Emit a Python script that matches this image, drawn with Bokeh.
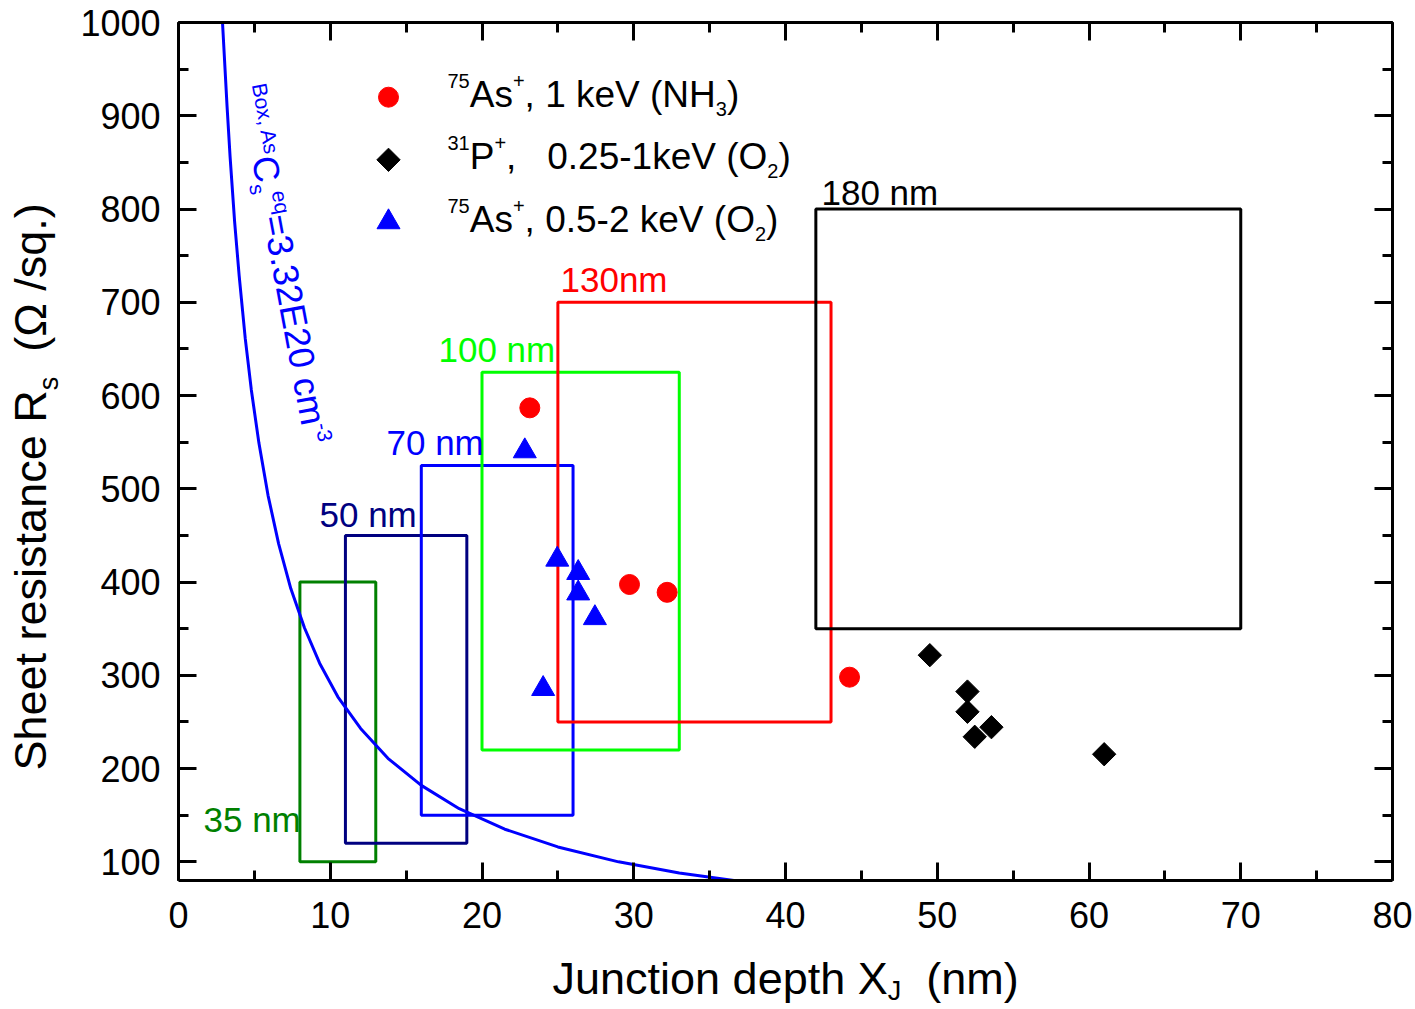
import math
from bokeh.plotting import figure
from bokeh.models import Label, LinearAxis, SingleIntervalTicker, CustomJSTickFormatter, Range1d
from bokeh.layouts import row, column
from bokeh.embed import file_html
from bokeh.resources import INLINE

FONT = "Liberation Sans"

# ---------------- data ----------------
as_nh3_x = [23.15, 29.72, 32.2, 44.22]
as_nh3_y = [586.8, 397.4, 389.0, 298.0]

p_o2_x = [49.51, 51.99, 51.99, 53.57, 52.47, 61.0]
p_o2_y = [321.6, 282.6, 260.9, 244.4, 234.1, 215.4]

as_o2_x = [22.82, 24.96, 26.34, 26.34, 27.44, 24.03]
as_o2_y = [540.4, 424.2, 409.9, 388.0, 361.5, 285.5]

curve_x = [2.9, 3.0, 3.2, 3.4, 3.7, 4.0, 4.4, 4.8, 5.3, 5.9, 6.6, 7.4, 8.3, 9.3,
           10.5, 12.0, 13.8, 16.0, 18.5, 21.5, 25.0, 29.0, 33.0, 36.6]
curve_y = [1000, 970, 910, 856, 786, 728, 661, 606, 549, 493, 441, 393, 351, 313,
           277, 243, 211, 182, 157, 135, 116, 100, 88, 80]

box_names = ["35 nm", "50 nm", "70 nm", "100 nm", "130nm", "180 nm"]
box_left = [8, 11, 16, 20, 25, 42]
box_right = [13, 19, 26, 33, 43, 70]
box_bottom = [100, 120, 150, 220, 250, 350]
box_top = [400, 450, 525, 625, 700, 800]
box_colors = ["#008000", "#000080", "#0000ff", "#00ff00", "#ff0000", "#000000"]

x_tick_step = 10
y_tick_step = 100

# ---------------- layout (page pixels) ----------------
X0, X1, Y0, Y1 = 0, 80, 80, 1000
W, H = 1415, 1009
YT_W = 65                 # strip for the y-axis title
XT_H = 59                 # strip for the x-axis title
L, T, R, B = 178, 22, 23, 129   # frame borders in page pixels
FW, FH = W - L - R, H - T - B

p = figure(width=W - YT_W, height=H - XT_H, x_range=Range1d(X0, X1), y_range=Range1d(Y0, Y1),
           output_backend="svg", toolbar_location=None,
           min_border_left=L - YT_W, min_border_top=T, min_border_right=R,
           min_border_bottom=B - XT_H,
           background_fill_color="white", border_fill_color="white")
p.outline_line_color = None
p.xgrid.grid_line_color = None
p.ygrid.grid_line_color = None


def style_axis(ax, standoff, show_labels=True):
    ax.axis_line_width = 3
    ax.axis_line_color = "black"
    ax.major_tick_line_width = 3
    ax.minor_tick_line_width = 3
    ax.major_tick_in = 18
    ax.major_tick_out = 0
    ax.minor_tick_in = 10
    ax.minor_tick_out = 0
    ax.major_label_text_font = FONT
    ax.major_label_text_font_size = "36px"
    ax.major_label_text_color = "black"
    if show_labels:
        ax.major_label_standoff = standoff
    else:
        ax.formatter = CustomJSTickFormatter(code="return ''")
        ax.major_label_standoff = 0
        ax.major_label_text_font_size = "1px"


p.xaxis.ticker = SingleIntervalTicker(interval=x_tick_step, num_minor_ticks=2)
p.yaxis.ticker = SingleIntervalTicker(interval=y_tick_step, num_minor_ticks=2)
style_axis(p.xaxis[0], 21)
style_axis(p.yaxis[0], 18)

top_ax = LinearAxis(ticker=SingleIntervalTicker(interval=x_tick_step, num_minor_ticks=2))
right_ax = LinearAxis(ticker=SingleIntervalTicker(interval=y_tick_step, num_minor_ticks=2))
style_axis(top_ax, 0, False)
style_axis(right_ax, 0, False)
p.add_layout(top_ax, "above")
p.add_layout(right_ax, "right")


def strip(width, height, xr, yr):
    f = figure(width=width, height=height, x_range=Range1d(*xr), y_range=Range1d(*yr),
               x_axis_type=None, y_axis_type=None,
               output_backend="svg", toolbar_location=None,
               min_border_left=0, min_border_right=0, min_border_top=0, min_border_bottom=0,
               background_fill_color="white", border_fill_color="white")
    f.outline_line_color = None
    f.xgrid.grid_line_color = None
    f.ygrid.grid_line_color = None
    return f


# the y-title strip covers page x 0..65 and the full height (y grows downward)
yt = strip(YT_W, H, (0, YT_W), (H, 0))
# the x-title strip's frame is aligned by the column with the main frame (page x L..W-R)
xt = strip(W - YT_W, XT_H, (L, W - R), (H, H - XT_H))

# ---------------- helpers for rich text ----------------
CW = {" ": 278, "\u00a0": 278, "(": 333, ")": 333, "+": 584, ",": 278, "-": 333, ".": 278,
      "/": 278, "=": 584, "A": 667, "B": 667, "C": 722, "E": 667, "H": 722, "J": 500,
      "N": 722, "O": 778, "P": 667, "R": 722, "S": 667, "V": 667, "X": 667, "a": 556,
      "c": 500, "d": 556, "e": 556, "h": 556, "i": 222, "k": 500, "m": 833, "n": 556,
      "o": 556, "p": 556, "q": 556, "r": 333, "s": 500, "t": 278, "u": 556, "x": 500,
      "\u03a9": 768}
BASE_FIX = 0.38   # empirical baseline correction (fraction of font size)


def tw(s, size):
    return sum(CW.get(c, 556) for c in s) / 1000.0 * size


def main_map(sx, sy):
    return X0 + (sx - L) * (X1 - X0) / FW, Y1 - (sy - T) * (Y1 - Y0) / FH


def page_map(sx, sy):
    return sx, sy


def rich(fig, mapper, sx, sy, pieces, angle_deg=0.0, color="black"):
    a = math.radians(angle_deg)
    vx, vy = math.cos(a), -math.sin(a)
    ux, uy = -math.sin(a), -math.cos(a)
    along = 0.0
    for text, size, shift in pieces:
        s = shift + BASE_FIX * size
        px = sx + along * vx + s * ux
        py = sy + along * vy + s * uy
        x, y = mapper(px, py)
        fig.add_layout(Label(x=x, y=y, text=text, angle=a, text_font=FONT,
                             text_font_size=f"{size}px", text_color=color,
                             text_align="left", text_baseline="alphabetic"))
        along += tw(text, size)


# ---------------- marks ----------------
p.quad(left=box_left, right=box_right, bottom=box_bottom, top=box_top,
       fill_color=None, line_color=box_colors, line_width=3)
p.line(curve_x, curve_y, line_color="#0000ff", line_width=3)

p.scatter(as_nh3_x, as_nh3_y, marker="circle", size=20, color="#ff0000")
p.scatter(p_o2_x, p_o2_y, marker="square", angle=math.pi / 4, size=16.5, color="black")
p.scatter(as_o2_x, as_o2_y, marker="triangle", size=23, color="#0000ff")

# box labels (left, baseline) in page pixels
box_label_pos = [(203, 832), (319, 527), (386, 455), (438, 362), (560, 292), (821, 205)]
for name, col, (sx, sy) in zip(box_names, box_colors, box_label_pos):
    rich(p, main_map, sx, sy, [(name, 35, 0)], color=col)

# legend
leg_x = 388
leg_rows = [(96.7, "circle", "#ff0000", 20, 0.0), (159.3, "square", "black", 16.5, math.pi / 4),
            (221.6, "triangle", "#0000ff", 23, 0.0)]
for sy, mk, col, sz, ang in leg_rows:
    lx, ly = main_map(leg_x, sy)
    p.scatter([lx], [ly], marker=mk, size=sz, color=col, angle=ang)

MS, SS = 37, 20
NB = "\u00a0"
rich(p, main_map, 447, 108.5, [("75", SS, 20), ("As", MS, 0), ("+", SS, 20),
                               (", 1 keV (NH", MS, 0), ("3", SS, -8), (")", MS, 0)])
rich(p, main_map, 447, 170.5, [("31", SS, 20), ("P", MS, 0), ("+", SS, 20),
                               ("," + NB * 3 + "0.25-1keV (O", MS, 0), ("2", SS, -8), (")", MS, 0)])
rich(p, main_map, 447, 233.0, [("75", SS, 20), ("As", MS, 0), ("+", SS, 20),
                               (", 0.5-2 keV (O", MS, 0), ("2", SS, -8), (")", MS, 0)])

# rotated C_s annotation
rich(p, main_map, 237, 87, [("Box, As", 21, 14), ("C", 36, 0), ("s", 21, -7), ("eq", 21, 14),
                            ("=3.32E20 cm", 36, 0), ("-3", 21, 14)],
     angle_deg=-79.5, color="#0000ff")

# axis titles
rich(xt, page_map, 552, 995, [("Junction depth X", 45, 0), ("J", 27, -6), (NB * 2 + "(nm)", 45, 0)])
rich(yt, page_map, 47, 770, [("Sheet resistance R", 45, 0), ("s", 27, -12),
                             (NB * 2 + "(\u03a9 /sq.)", 45, 0)], angle_deg=90)

layout = row(yt, column(p, xt, spacing=0), spacing=0)
open("out.html", "w").write(file_html(layout, INLINE))
